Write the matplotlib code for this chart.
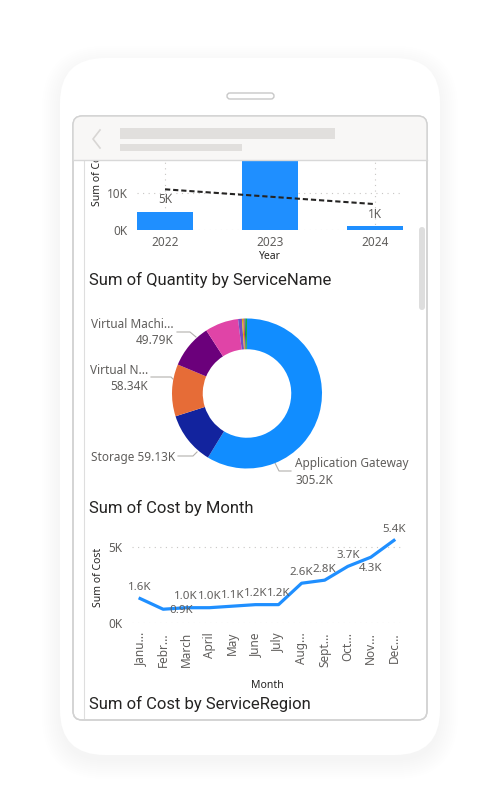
import matplotlib
matplotlib.use('Agg')
import matplotlib.pyplot as plt
from matplotlib.patches import FancyBboxPatch, Rectangle
import numpy as np

W, H = 495, 796

# --- data -------------------------------------------------------------
years = ['2022', '2023', '2024']
cost_by_year = [5.0, 21.0, 1.0]          # K

services = ['Application Gateway', 'Storage', 'Virtual Network', 'Virtual Machines',
            'Bandwidth', 'Key Vault', 'Log Analytics', 'Azure Monitor', 'Event Grid', 'Functions']
service_labels = ['Application Gateway', 'Storage', 'Virtual N...', 'Virtual Machi...']
quantity = [305.2, 59.13, 58.34, 49.79, 37.5, 4.3, 1.4, 1.4, 1.4, 1.4]   # K
slice_colors = ['#118DFF', '#12239E', '#E66C37', '#6B007B', '#E044A7',
                '#744EC2', '#D9B300', '#D64550', '#197278', '#1AAB40']

months = ['Janu...', 'Febr...', 'March', 'April', 'May', 'June', 'July',
          'Aug...', 'Sept...', 'Oct...', 'Nov...', 'Dec...']
cost_by_month = [1.6, 0.9, 1.0, 1.0, 1.1, 1.2, 1.2, 2.6, 2.8, 3.7, 4.3, 5.4]   # K

BLUE = '#1f8fff'
GRAY = '#605E5C'
DARK = '#252423'
GRID = '#c8c6c4'
LABEL_FONT = 'Noto Sans'
TITLE_FONT = 'Roboto'


def add_ax(x0, y0, x1, y1, **kw):
    # pixel box (y from top) -> figure axes
    return fig.add_axes([x0 / W, 1 - y1 / H, (x1 - x0) / W, (y1 - y0) / H], **kw)


fig = plt.figure(figsize=(W / 100, H / 100), dpi=100)
fig.patch.set_facecolor('white')

# --- phone frame --------------------------------------------------------
bg = add_ax(0, 0, W, H, zorder=0)
bg.set_xlim(0, W)
bg.set_ylim(H, 0)
bg.axis('off')

for i in range(10):
    bg.add_patch(FancyBboxPatch((60 - i * 2, 64 - i * 2), 380 + i * 4, 697 + i * 4,
                                boxstyle='round,pad=0,rounding_size=%d' % (45 + i * 2),
                                fc='black', ec='none', alpha=0.005))
bg.add_patch(FancyBboxPatch((60, 58), 380, 697, boxstyle='round,pad=0,rounding_size=45',
                            fc='white', ec='none'))
bg.add_patch(FancyBboxPatch((227, 93), 47, 6, boxstyle='round,pad=0,rounding_size=3',
                            fc='white', ec='#c8c8c8', lw=1))
bg.add_patch(FancyBboxPatch((73, 116), 354, 604, boxstyle='round,pad=0,rounding_size=9',
                            fc='white', ec='#d2d2d2', lw=1))
bg.plot([84, 84], [160, 719], color='#dedede', lw=0.8)
bg.add_patch(FancyBboxPatch((419, 227), 6, 83, boxstyle='round,pad=0,rounding_size=3',
                            fc='#dedede', ec='none'))

# --- chart 1: cost by year (scrolled, top cut) ------------------------
ax1 = add_ax(137, 160, 403, 230, zorder=2)
ax1.set_facecolor('none')
x1 = np.arange(len(years))
ax1.bar(x1, cost_by_year, width=0.533, color=BLUE, zorder=3)
coef = np.polyfit(x1, cost_by_year, 1)
ax1.plot(x1[[0, -1]], np.polyval(coef, x1[[0, -1]]), color=DARK, lw=1.5,
         ls=(0, (2.5, 1.4)), zorder=4)
for xi, v in zip(x1, cost_by_year):
    ax1.annotate('%dK' % v, (xi, v), xytext=(0, 4), textcoords='offset points',
                 ha='center', va='bottom', fontsize=8.5, color=GRAY, family=LABEL_FONT,
                 annotation_clip=True)
ax1.set_xlim(-0.267, 2.267)
ax1.set_ylim(0, 70 / 3.7)
ax1.set_yticks([0, 10])
ax1.set_yticklabels(['0K', '10K'])
ax1.set_xticks(x1)
ax1.set_xticklabels(years)
ax1.set_axisbelow(True)
ax1.grid(True, color=GRID, ls=(0, (1, 4)), lw=0.8)
for s in ax1.spines.values():
    s.set_visible(False)
ax1.tick_params(length=0, labelsize=8.5, labelcolor=GRAY, pad=4)
ax1.tick_params(axis='y', pad=7)
for t in ax1.get_xticklabels() + ax1.get_yticklabels():
    t.set_family(LABEL_FONT)
ax1.set_xlabel('Year', fontsize=7.5, color=DARK, family=LABEL_FONT, labelpad=2)
ax1.set_ylabel('Sum of Cost', fontsize=7.5, color=DARK, family=LABEL_FONT)
ax1.yaxis.set_label_coords(-0.128, 0.77)

# --- chart 2: quantity by service (donut) ------------------------------
fig.text(89 / W, 1 - 280 / H, 'Sum of Quantity by ServiceName', fontsize=12,
         family=TITLE_FONT, color=DARK, va='center', ha='left')
ax2 = add_ax(172, 318.5, 322, 468.5, zorder=2)
ax2.pie(quantity, colors=slice_colors, startangle=90, counterclock=False, radius=1,
        wedgeprops=dict(width=0.41, linewidth=0))
ax2.set_xlim(-1, 1)
ax2.set_ylim(-1, 1)
ax2.axis('off')


def fmt_k(v):
    return '%sK' % ('%.4g' % v)


lab_kw = dict(fontsize=8.5, color=GRAY, family=LABEL_FONT, va='center')
# Application Gateway
bg.plot([275, 279, 291], [463, 471, 471], color='#b3b0ad', lw=0.8)
bg.text(295, 464, service_labels[0], ha='left', **lab_kw)
bg.text(295, 480, fmt_k(quantity[0]), ha='left', **lab_kw)
# Storage
bg.plot([178, 193, 197], [456, 456, 452], color='#b3b0ad', lw=0.8)
bg.text(175, 457, '%s %s' % (service_labels[1], fmt_k(quantity[1])), ha='right', **lab_kw)
# Virtual N...
bg.plot([151, 171, 173], [377, 377, 379], color='#b3b0ad', lw=0.8)
bg.text(148, 370, service_labels[2], ha='right', **lab_kw)
bg.text(148, 386, fmt_k(quantity[2]), ha='right', **lab_kw)
# Virtual Machi...
bg.plot([177, 190, 196], [332, 332, 337], color='#b3b0ad', lw=0.8)
bg.text(174, 325, service_labels[3], ha='right', **lab_kw)
bg.text(174, 341, fmt_k(quantity[3]), ha='right', **lab_kw)

# --- chart 3: cost by month ---------------------------------------------
fig.text(89 / W, 1 - 508 / H, 'Sum of Cost by Month', fontsize=12,
         family=TITLE_FONT, color=DARK, va='center', ha='left')
ax3 = add_ax(132, 536, 402, 623, zorder=2)
ax3.set_facecolor('none')
x3 = np.arange(len(months))
ax3.plot(x3, cost_by_month, color=BLUE, lw=2.3, solid_joinstyle='round', zorder=3)
below = {1: (13, 3), 10: (0, -4)}
for xi, v in zip(x3, cost_by_month):
    if xi in below:
        off, va = below[xi], 'top'
    else:
        off, va = (0, 4), 'bottom'
    ax3.annotate('%.1fK' % v, (xi, v), xytext=off, textcoords='offset points',
                 ha='center', va=va, fontsize=8.3, color=GRAY, family=LABEL_FONT,
                 zorder=5)
ax3.set_xlim(-0.35, 11.35)
ax3.set_ylim(0, 87 / 15.3)
ax3.set_yticks([0, 5])
ax3.set_yticklabels(['0K', '5K'])
ax3.set_xticks(x3)
ax3.set_xticklabels(months, rotation=90, va='top', ha='center')
ax3.set_axisbelow(True)
ax3.yaxis.grid(True, color=GRID, ls=(0, (1, 4)), lw=0.8)
for s in ax3.spines.values():
    s.set_visible(False)
ax3.tick_params(length=0, labelsize=8.5, labelcolor=GRAY)
ax3.tick_params(axis='x', pad=6.5)
ax3.tick_params(axis='y', pad=7)
for t in ax3.get_xticklabels() + ax3.get_yticklabels():
    t.set_family(LABEL_FONT)
ax3.set_xlabel('Month', fontsize=7.5, color=DARK, family=LABEL_FONT, labelpad=9)
ax3.set_ylabel('Sum of Cost', fontsize=7.5, color=DARK, family=LABEL_FONT)
ax3.yaxis.set_label_coords(-0.105, 0.53)

fig.text(89 / W, 1 - 704 / H, 'Sum of Cost by ServiceRegion', fontsize=12,
         family=TITLE_FONT, color=DARK, va='center', ha='left')

# --- header overlay (covers the scrolled part) -------------------------
ov = add_ax(0, 0, W, H, zorder=10)
ov.set_xlim(0, W)
ov.set_ylim(H, 0)
ov.axis('off')
ov.patch.set_alpha(0)
screen_clip = FancyBboxPatch((73, 116), 354, 604, boxstyle='round,pad=0,rounding_size=9',
                             transform=ov.transData, fc='none', ec='none')
hdr = Rectangle((73, 116), 354, 44, fc='#f8f7f6', ec='none')
ov.add_patch(hdr)
hdr.set_clip_path(screen_clip)
ov.add_patch(FancyBboxPatch((73, 116), 354, 604, boxstyle='round,pad=0,rounding_size=9',
                            fc='none', ec='#d2d2d2', lw=1))
ov.plot([73, 427], [160, 160], color='#d8d8d8', lw=1)
ov.plot([100, 93, 100], [130, 139, 148], color='#d8d6d4', lw=1.2)
ov.add_patch(Rectangle((120, 128), 215, 11, fc='#e1dfdd', ec='none'))
ov.add_patch(Rectangle((120, 144), 122, 7, fc='#e1dfdd', ec='none'))

fig.savefig('out.png', dpi=100)
